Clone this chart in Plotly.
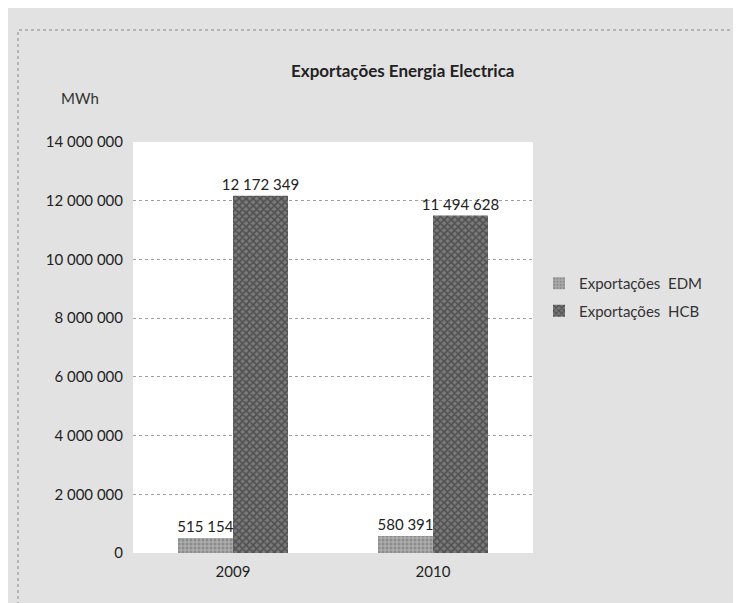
import plotly.graph_objects as go

title = "Exportações Energia Electrica"
years = ["2009", "2010"]
edm = [515154, 580391]
hcb = [12172349, 11494628]
series_names = ["Exportações  EDM", "Exportações  HCB"]
y_ticks = [0, 2000000, 4000000, 6000000, 8000000, 10000000, 12000000, 14000000]

W, H = 741, 603
L, R, T, B = 125, 216, 134, 58
pw, ph = W - L - R, H - T - B

def px(x):
    return (x - L) / pw

def py(y):
    return (H - B - y) / ph

font = "Lato, 'Open Sans', sans-serif"

fig = go.Figure()
fig.add_trace(go.Bar(
    x=years, y=edm, name=series_names[0], legendgroup="a",
    marker=dict(color="#a0a0a0", line=dict(width=0),
                pattern=dict(shape=".", fgcolor="#6a6a6a", bgcolor="#acacac", size=4, solidity=0.45)),
    texttemplate="%{y:,.0f}", textposition="outside", constraintext="none",
    textfont=dict(size=15, color="#222"), cliponaxis=False,
))
fig.add_trace(go.Bar(
    x=years, y=hcb, name=series_names[1], legendgroup="b",
    marker=dict(color="#555555", line=dict(width=0),
                pattern=dict(shape="x", fgcolor="#262626", bgcolor="#7a7a7a", size=5, solidity=0.55)),
    texttemplate="%{y:,.0f}", textposition="outside", constraintext="none",
    textfont=dict(size=15, color="#222"), cliponaxis=False,
))

fig.update_layout(
    width=W, height=H,
    margin=dict(l=L, r=R, t=T, b=B, autoexpand=False),
    paper_bgcolor="#e2e2e2", plot_bgcolor="#ffffff",
    separators=", ",
    font=dict(family=font, size=15, color="#222"),
    barmode="group", bargap=0.45, bargroupgap=0,
    showlegend=True,
    legend=dict(x=px(531), y=py(289), xanchor="left", yanchor="middle",
                bgcolor="rgba(0,0,0,0)", font=dict(size=15, color="#333"),
                itemwidth=30, traceorder="grouped", tracegroupgap=5),
    xaxis=dict(showgrid=False, showline=False, ticks="", tickfont=dict(size=15),
               ticklabelstandoff=8),
    yaxis=dict(range=[0, 14000000], tickvals=y_ticks, tickformat=",.0f",
               showgrid=True, gridcolor="#a0a0a0", griddash="dot", gridwidth=1,
               zeroline=False, showline=False, ticks="", tickfont=dict(size=15),
               ticklabelstandoff=9),
    annotations=[
        dict(text="<b>" + title + "</b>", x=px(394), y=py(62), xref="paper", yref="paper",
             showarrow=False, font=dict(size=17, color="#222"), xanchor="center", yanchor="middle"),
        dict(text="MWh", x=px(72), y=py(90), xref="paper", yref="paper",
             showarrow=False, font=dict(size=15, color="#333"), xanchor="center", yanchor="middle"),
    ],
    shapes=[
        dict(type="rect", xref="paper", yref="paper",
             x0=px(10), x1=px(735), y0=py(598), y1=py(22),
             line=dict(color="#888", width=1, dash="dot"), layer="below"),
    ],
)

fig.write_html("out.html")
